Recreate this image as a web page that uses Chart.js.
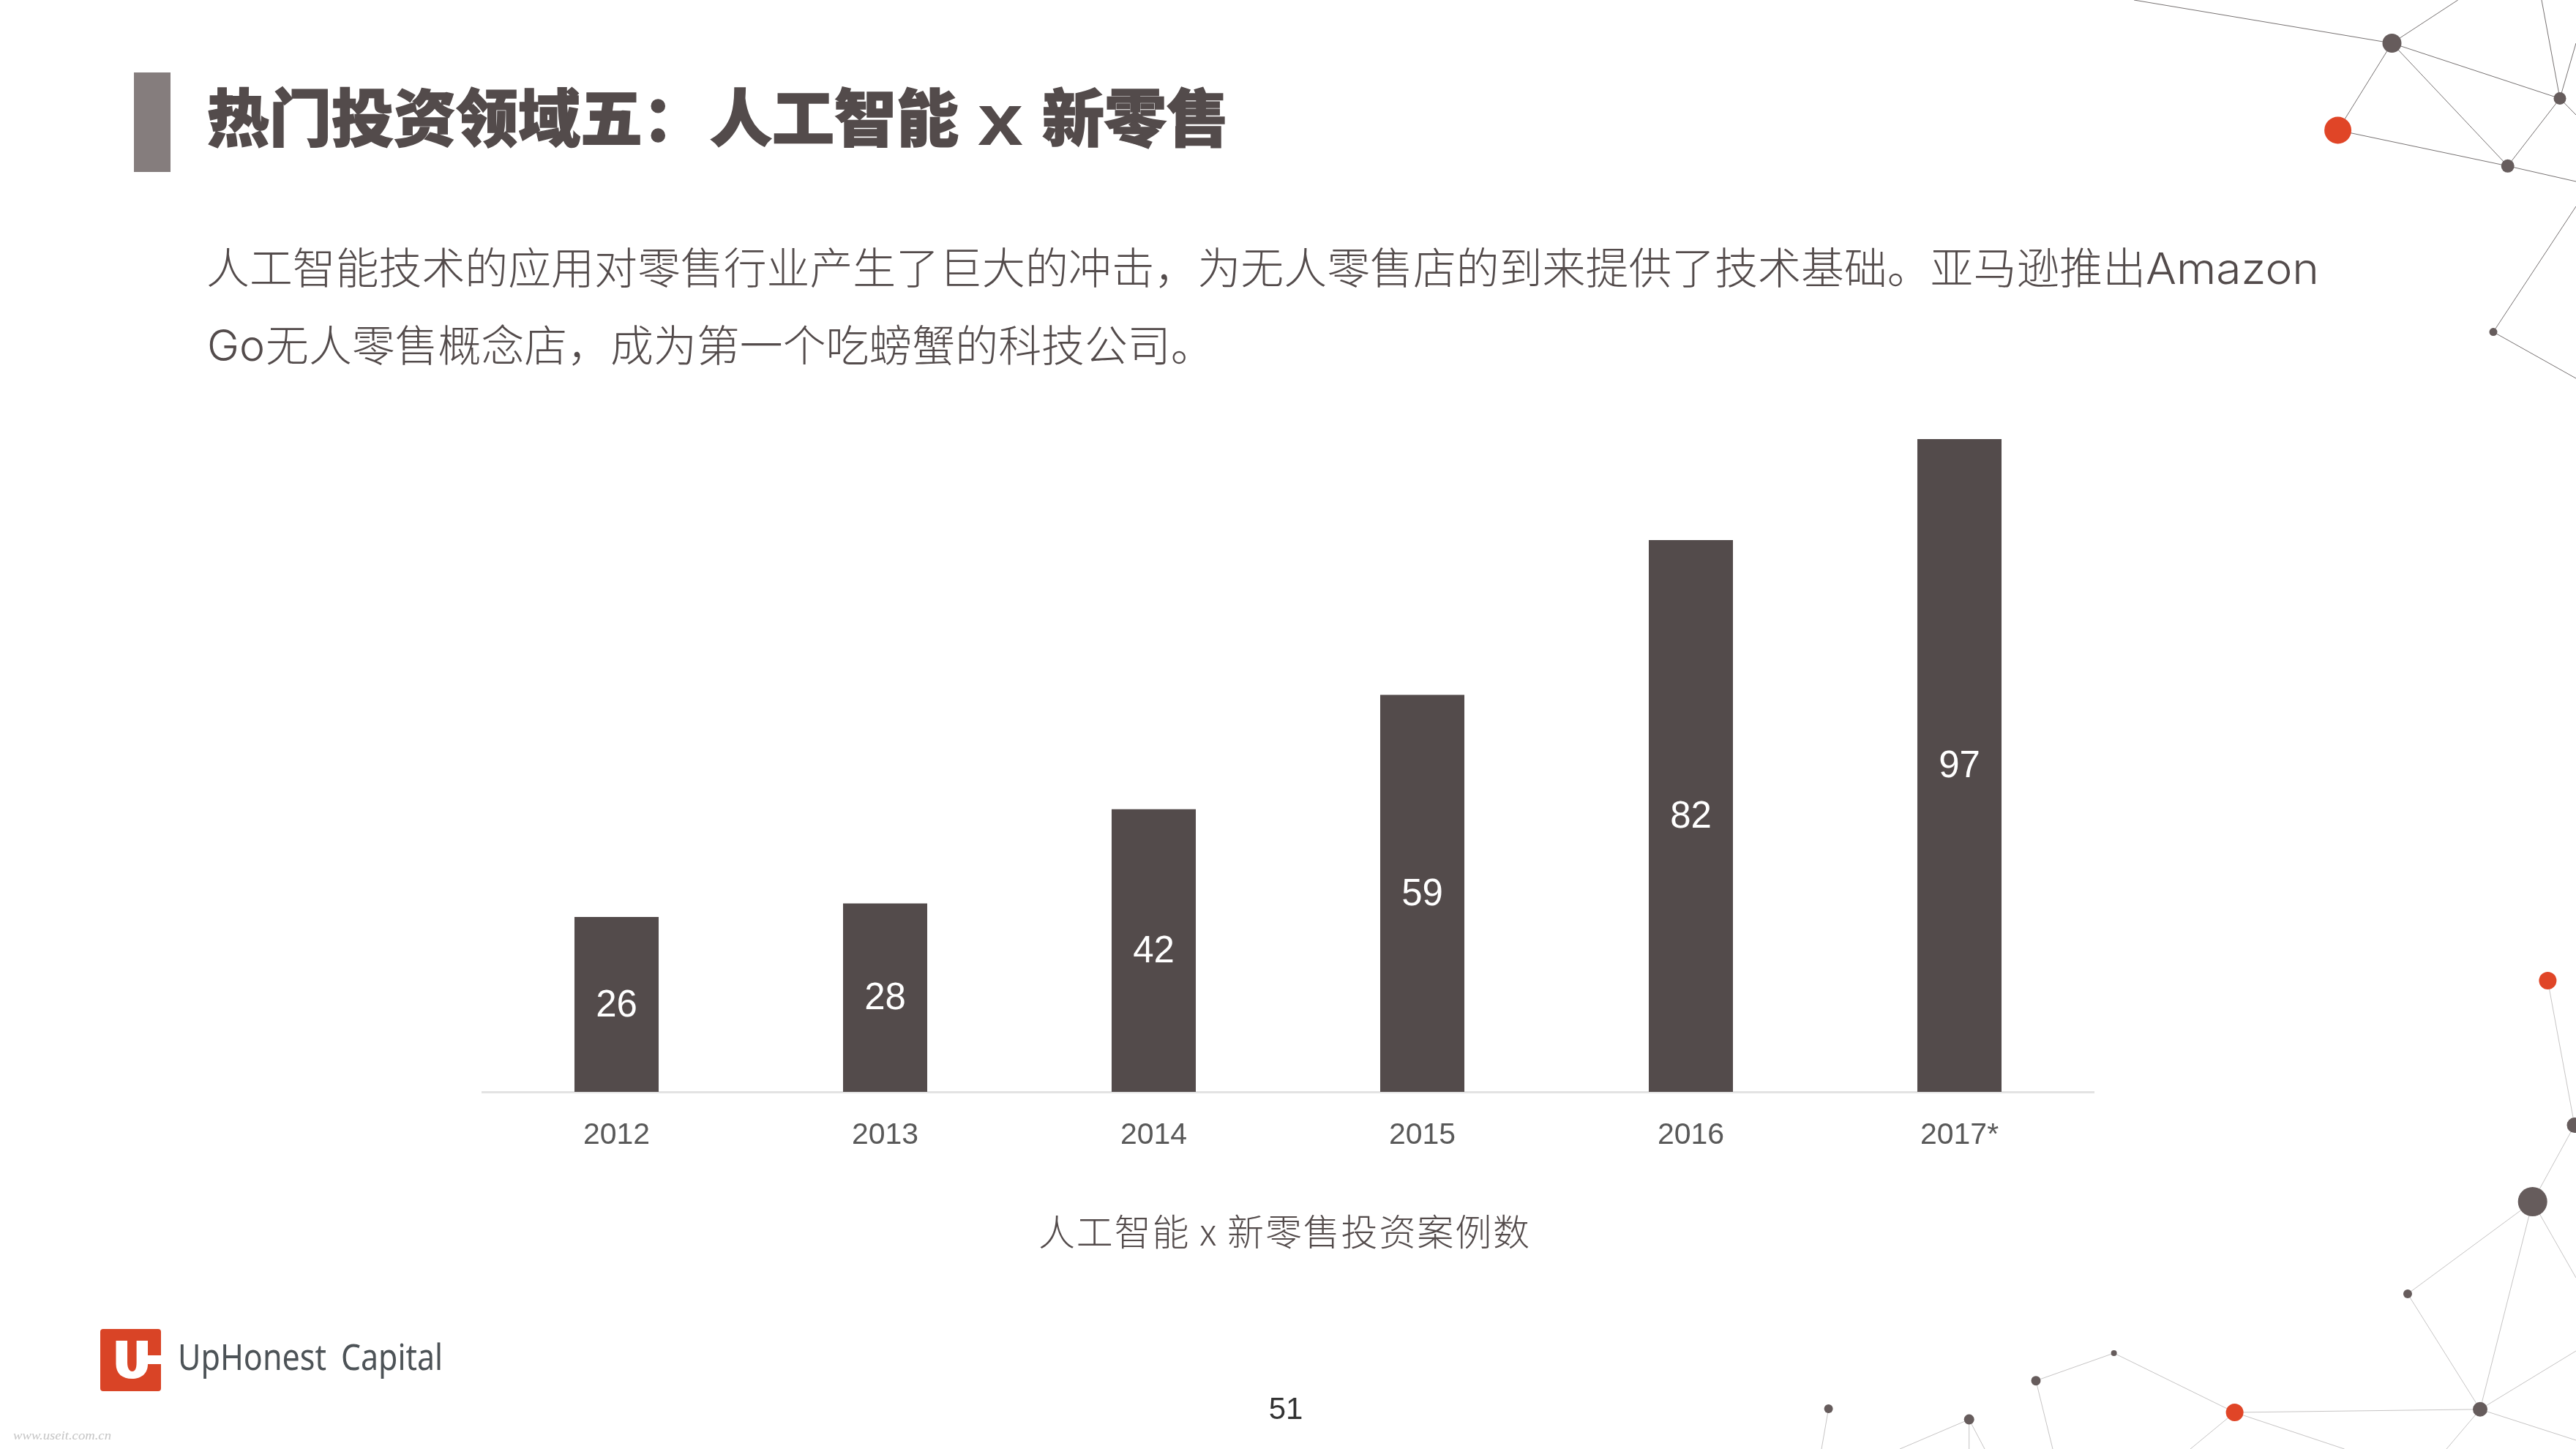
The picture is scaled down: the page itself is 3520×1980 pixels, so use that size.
<!DOCTYPE html>
<html lang="zh-CN">
<head>
<meta charset="utf-8">
<title>热门投资领域五</title>
<script src="https://cdn.jsdelivr.net/npm/chart.js@4"></script>
<style>
html,body{margin:0;padding:0;background:#fff;width:3520px;height:1980px;overflow:hidden}
#stage{position:relative;width:3520px;height:1980px}
#chart{position:absolute;left:0;top:0;width:3520px;height:1980px}
svg{position:absolute;left:0;top:0}
.cjk{font-family:"Noto Sans CJK SC","Noto Sans",sans-serif}
.lat{font-family:Inter,"Liberation Sans",sans-serif;font-weight:300}
</style>
</head>
<body>
<div id="stage">
<svg id="deco" width="3520" height="1980" viewBox="0 0 3520 1980"></svg>
<canvas id="chart" width="3520" height="1980"></canvas>
<svg id="text" width="3520" height="1980" viewBox="0 0 3520 1980">
  <rect x="183" y="99" width="50" height="136" fill="#857d7d"/>
  <g fill="#534b4b" stroke="#534b4b" stroke-width="1.5">
    <text class="cjk" x="283" y="193" font-size="85" font-weight="900">热门投资领域五：</text>
    <text class="cjk" x="970" y="193" font-size="85" font-weight="900">人工智能</text>
    <text x="1336" y="198" font-family="Liberation Sans" font-weight="700" font-size="100" stroke="none" textLength="62" lengthAdjust="spacingAndGlyphs">x</text>
    <text class="cjk" x="1424" y="193" font-size="85" font-weight="900">新零售</text>
  </g>
  <g fill="#534b4b" font-size="58.900">
    <text class="cjk" x="282" y="388" font-weight="300">人工智能技术的应用对零售行业产生了巨大的冲击，为无人零售店的到来提供了技术基础。亚马逊推出</text>
    <text class="lat" x="2932" y="388" textLength="237" lengthAdjust="spacingAndGlyphs">Amazon</text>
    <text class="lat" x="283" y="493" textLength="79" lengthAdjust="spacingAndGlyphs">Go</text>
    <text class="cjk" x="363" y="494" font-weight="300">无人零售概念店，成为第一个吃螃蟹的科技公司。</text>
  </g>
  <text class="cjk" x="1419" y="1702" font-size="50" font-weight="300" fill="#534b4b" textLength="671" lengthAdjust="spacing">人工智能 x 新零售投资案例数</text>
  <text x="1757" y="1939" font-family="Liberation Sans" font-size="42" fill="#333" text-anchor="middle">51</text>
  <rect x="137" y="1816" width="83" height="85" rx="4" fill="#d94426"/>
  <path d="M158.500 1832H174V1862C174 1871 178 1874 180.500 1874C184 1874 186.600 1871 186.600 1862V1832H202V1852H220V1864H202C202 1877 193 1884 180.500 1884C167 1884 158.500 1877 158.500 1864Z" fill="#fff"/>
  <text x="243" y="1872" font-family="Noto Sans" font-size="50" fill="#4d5357" textLength="203" lengthAdjust="spacingAndGlyphs">UpHonest</text>
  <text x="466" y="1872" font-family="Noto Sans" font-size="50" fill="#4d5357" textLength="139" lengthAdjust="spacingAndGlyphs">Capital</text>
  <text x="18" y="1967" font-family="Liberation Serif" font-style="italic" font-size="17" fill="#c4c4c4" textLength="134" lengthAdjust="spacingAndGlyphs">www.useit.com.cn</text>
</svg>
</div>
<script>
const categories = ['2012','2013','2014','2015','2016','2017*'];
const caseCounts = [26,28,42,59,82,97];

// Decorative network in the slide's corners (not chart data)
const nodes = [
  [3268.5,59,13,'g'],[3194.6,178,18.5,'r'],[3498,134.6,8.5,'g'],[3426.7,226.8,9,'g'],[3407,453.6,5.5,'g'],
  [3481.4,1340,12,'r'],[3518,1537.6,10.5,'g'],[3460.7,1642,20,'g'],[3290,1768,6,'g'],[3389,1925.8,10,'g'],
  [3053.6,1930,12,'r'],[2888.6,1849,4,'g'],[2782,1886.7,6.5,'g'],[2690.7,1939.6,7,'g'],[2498.6,1925,6,'g']
];
const darkLinks = [
  [2916,0,3268.5,59],[3268.5,59,3358.7,0],[3268.5,59,3498,134.6],[3268.5,59,3426.7,226.8],[3268.5,59,3194.6,178],
  [3194.6,178,3426.7,226.8],[3426.7,226.8,3520,248],[3498,134.6,3426.7,226.8],[3498,134.6,3473,0],[3498,134.6,3520,59],
  [3498,134.6,3520,157],[3407,453.6,3520,282],[3407,453.6,3520,517]
];
const lightLinks = [
  [3481.4,1340,3518,1537.6],[3518,1537.6,3460.7,1642],[3460.7,1642,3290,1768],[3460.7,1642,3389,1925.8],[3460.7,1642,3520,1746],
  [3290,1768,3389,1925.8],[3389,1925.8,3520,1846],[3389,1925.8,3053.6,1930],[3389,1925.8,3520,1968],[3389,1925.8,3343,1980],
  [3053.6,1930,2888.6,1849],[2888.6,1849,2782,1886.7],[2782,1886.7,2805,1980],[3053.6,1930,2993,1980],[3053.6,1930,3203.6,1980],
  [2690.7,1939.6,2596,1980],[2690.7,1939.6,2690.7,1980],[2690.7,1939.6,2712,1980],[2498.6,1925,2489,1980]
];
const deco = document.getElementById('deco');
const NS = 'http://www.w3.org/2000/svg';
function addLinks(list, colour){
  list.forEach(l => {
    const e = document.createElementNS(NS,'line');
    e.setAttribute('x1',l[0]);e.setAttribute('y1',l[1]);e.setAttribute('x2',l[2]);e.setAttribute('y2',l[3]);
    e.setAttribute('stroke',colour);e.setAttribute('stroke-width','1');
    deco.appendChild(e);
  });
}
addLinks(darkLinks,'#777272');
addLinks(lightLinks,'#c6c4c4');
nodes.forEach(n => {
  const c = document.createElementNS(NS,'circle');
  c.setAttribute('cx',n[0]);c.setAttribute('cy',n[1]);c.setAttribute('r',n[2]);
  c.setAttribute('fill',n[3]==='r'?'#e04527':'#665c5c');
  deco.appendChild(c);
});

const valueLabels = {
  id:'valueLabels',
  afterDatasetsDraw(chart){
    const {ctx} = chart;
    ctx.save();
    ctx.fillStyle = '#ffffff';
    ctx.font = '51px "Liberation Sans"';
    ctx.textAlign = 'center';
    ctx.textBaseline = 'middle';
    chart.getDatasetMeta(0).data.forEach((bar,i) => {
      ctx.fillText(String(caseCounts[i]), bar.x, (bar.y + bar.base) / 2 + 2);
    });
    ctx.restore();
  }
};

new Chart(document.getElementById('chart'),{
  type:'bar',
  data:{labels:categories,datasets:[{data:caseCounts,backgroundColor:'#534b4b',borderWidth:0,barPercentage:1,categoryPercentage:0.3134}]},
  plugins:[valueLabels],
  options:{
    responsive:false,
    animation:false,
    devicePixelRatio:1,
    layout:{padding:{left:659,right:659,top:572.5,bottom:0}},
    plugins:{legend:{display:false},tooltip:{enabled:false},title:{display:false}},
    scales:{
      x:{
        grid:{display:false,drawTicks:false},
        border:{display:true,color:'#e3e3e3',width:3},
        ticks:{color:'#595959',font:{family:'Liberation Sans',size:41},padding:35,maxRotation:0},
        afterFit(s){s.height = 488;}
      },
      y:{display:false,min:0,max:100}
    }
  }
});
</script>
</body>
</html>
